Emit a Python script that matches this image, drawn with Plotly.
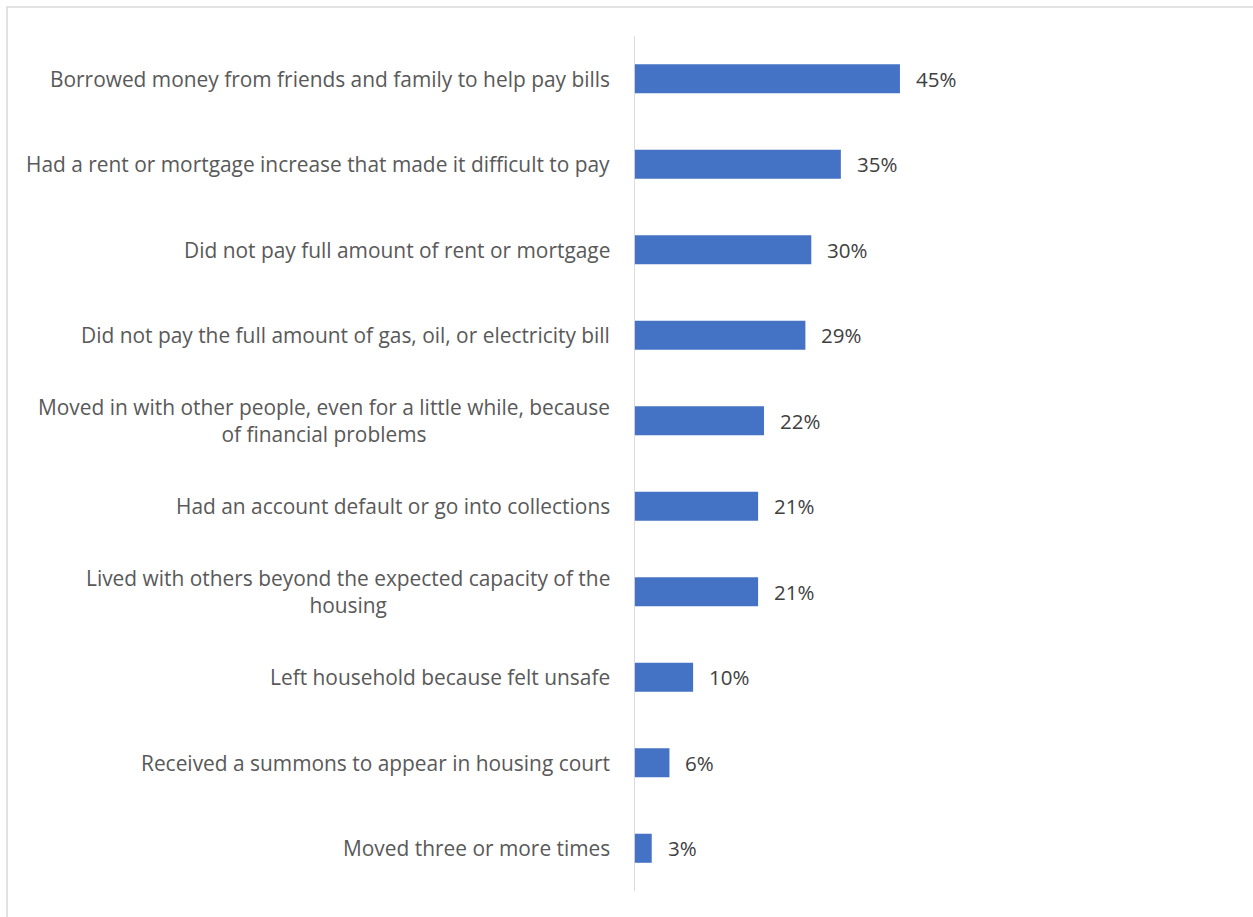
import plotly.graph_objects as go

categories = [
    "Borrowed money from friends and family to help pay bills",
    "Had a rent or mortgage increase that made it difficult to pay",
    "Did not pay full amount of rent or mortgage",
    "Did not pay the full amount of gas, oil, or electricity bill",
    "Moved in with other people, even for a little while, because<br>of financial problems",
    "Had an account default or go into collections",
    "Lived with others beyond the expected capacity of the<br>housing",
    "Left household because felt unsafe",
    "Received a summons to appear in housing court",
    "Moved three or more times",
]
values = [45, 35, 30, 29, 22, 21, 21, 10, 6, 3]
value_labels = ["45%", "35%", "30%", "29%", "22%", "21%", "21%", "10%", "6%", "3%"]

FONT = "Open Sans"
W, H = 1253, 917
L, R, T, B = 634, 28, 36, 26

fig = go.Figure()
fig.add_trace(go.Bar(
    x=values, y=categories, orientation="h",
    marker=dict(color="#4472C4", line=dict(width=0)),
    width=0.34, hoverinfo="skip",
))

annotations = []
for c, v, lab in zip(categories, values, value_labels):
    annotations.append(dict(
        x=0, xref="paper", y=c, yref="y", text=c, showarrow=False,
        xanchor="right", yanchor="middle", align="center", xshift=-22,
        font=dict(family=FONT, size=20.9, color="#595959"),
    ))
    annotations.append(dict(
        x=v, xref="x", y=c, yref="y", text=lab, showarrow=False,
        xanchor="left", yanchor="middle", xshift=14,
        font=dict(family=FONT, size=20.5, color="#404040"),
    ))

pw = W - L - R
ph = H - T - B
shapes = [dict(
    type="rect", xref="paper", yref="paper",
    x0=(7 - L) / pw, x1=(W + 20 - L) / pw,
    y0=-(H + 20 - T - ph) / ph, y1=1 + (T - 7) / ph,
    line=dict(color="#d9d9d9", width=1.5), fillcolor="rgba(0,0,0,0)", layer="below",
)]

fig.update_layout(
    width=W, height=H,
    margin=dict(l=L, r=R, t=T, b=B, pad=0),
    paper_bgcolor="white", plot_bgcolor="white",
    showlegend=False,
    xaxis=dict(range=[0, 100], visible=False, fixedrange=True),
    yaxis=dict(autorange="reversed", showticklabels=False, showgrid=False,
               zeroline=False, showline=False, ticks=""),
    annotations=annotations,
    shapes=shapes + [dict(type="line", xref="x", yref="paper", x0=0, x1=0, y0=0, y1=1,
                          line=dict(color="#d9d9d9", width=1.8))],
    font=dict(family=FONT),
)

fig.write_html("out.html", config={"displayModeBar": False})
